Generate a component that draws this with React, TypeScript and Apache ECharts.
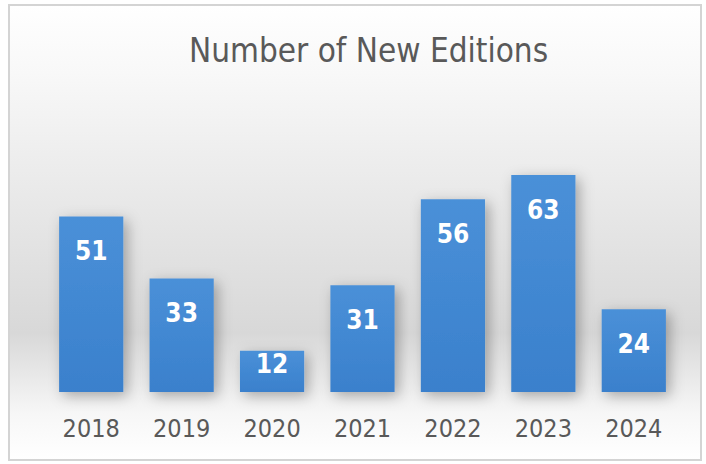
import React, { useEffect, useRef } from "react";
import * as echarts from "echarts";

const categories = ["2018", "2019", "2020", "2021", "2022", "2023", "2024"];
const values = [51, 33, 12, 31, 56, 63, 24];
const titleText = "Number of New Editions";

const FONT = "'Liberation Sans Narrow', 'DejaVu Sans Condensed', 'Open Sans', sans-serif";

export default function App() {
  const ref = useRef<HTMLDivElement>(null);
  useEffect(() => {
    if (!ref.current) return;
    const chart = echarts.init(ref.current, null, { renderer: "svg" });
    chart.setOption({
      animation: false,
      graphic: [
        {
          type: "rect",
          z: -10,
          silent: true,
          shape: { x: 9, y: 5, width: 692, height: 455 },
          style: {
            fill: new echarts.graphic.LinearGradient(0, 0, 0, 1, [
              { offset: 0, color: "#ffffff" },
              { offset: 0.15, color: "#f8f8f8" },
              { offset: 0.72, color: "#d8d8d8" },
              { offset: 0.9, color: "#f7f7f7" },
              { offset: 1, color: "#ffffff" },
            ]),
            stroke: "#d4d4d4",
            lineWidth: 2,
          },
        },
      ],
      title: {
        text: titleText,
        left: 184,
        top: 29,
        textStyle: {
          fontFamily: FONT,
          fontSize: 33,
          fontWeight: "normal",
          color: "#595959",
        },
      },
      grid: { left: 46, right: 27, top: 151, bottom: 72 },
      xAxis: {
        type: "category",
        data: categories,
        axisLine: { show: false },
        axisTick: { show: false },
        axisLabel: {
          fontFamily: FONT,
          fontSize: 25,
          color: "#595959",
          margin: 24,
        },
      },
      yAxis: {
        type: "value",
        min: 0,
        max: 70,
        show: false,
        splitLine: { show: false },
      },
      series: [
        {
          type: "bar",
          barCategoryGap: "29%",
          data: values.map((v) =>
            v < 20
              ? { value: v, label: { distance: 0 } }
              : v
          ),
          itemStyle: {
            color: new echarts.graphic.LinearGradient(0, 0, 0, 1, [
              { offset: 0, color: "#4a90d8" },
              { offset: 1, color: "#3a80cc" },
            ]),
            shadowColor: "rgba(0,0,0,0.3)",
            shadowBlur: 14,
            shadowOffsetX: 4,
            shadowOffsetY: 4,
          },
          label: {
            show: true,
            position: "insideTop",
            distance: 22,
            fontFamily: FONT,
            fontSize: 26,
            fontWeight: "bold",
            color: "#ffffff",
          },
        },
      ],
    });
    return () => chart.dispose();
  }, []);
  return (
    <div
      ref={ref}
      style={{ position: "absolute", left: 0, top: 0, width: 706, height: 464 }}
    />
  );
}
